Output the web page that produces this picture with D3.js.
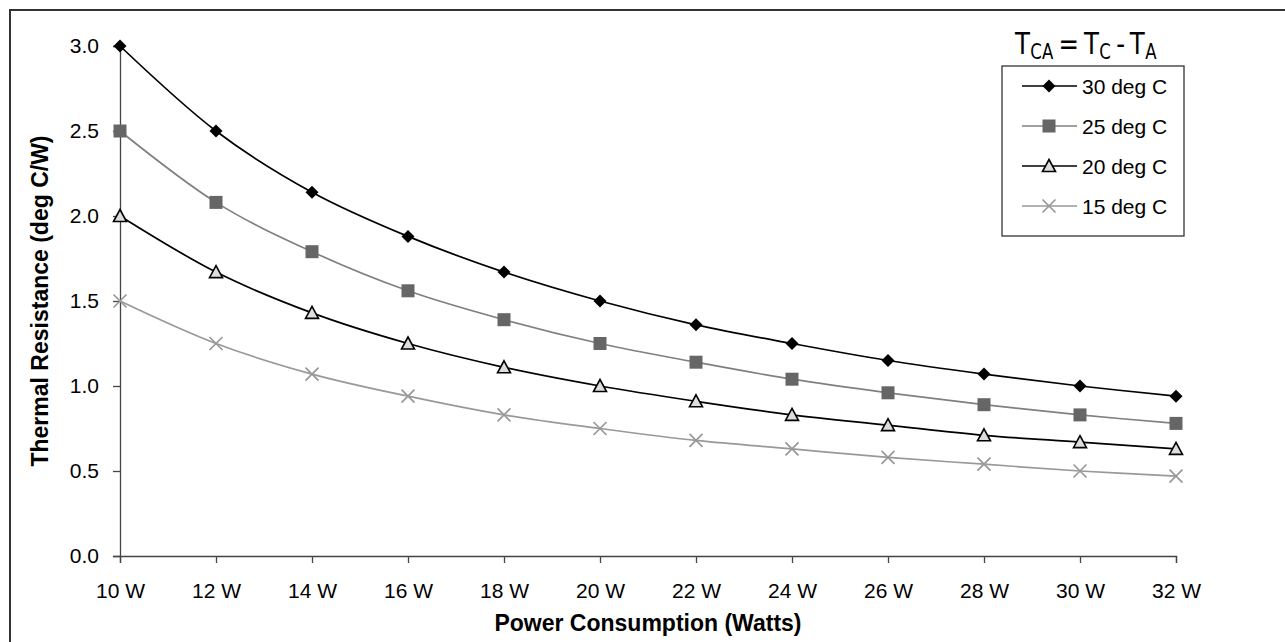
<!DOCTYPE html>
<html>
<head>
<meta charset="utf-8">
<script src="https://cdn.jsdelivr.net/npm/d3@7"></script>
<style>
  body { margin: 0; background: #fff; }
  text { font-family: Arial, "Liberation Sans", sans-serif; }
</style>
</head>
<body>
<script>
const width = 1285, height = 642;

// data
const watts = [10, 12, 14, 16, 18, 20, 22, 24, 26, 28, 30, 32];
const yTicks = [0, 0.5, 1.0, 1.5, 2.0, 2.5, 3.0];
const seriesNames = ["30 deg C", "25 deg C", "20 deg C", "15 deg C"];
const r30 = [3.0, 2.5, 2.14, 1.88, 1.67, 1.5, 1.36, 1.25, 1.15, 1.07, 1.0, 0.94];
const r25 = [2.5, 2.08, 1.79, 1.56, 1.39, 1.25, 1.14, 1.04, 0.96, 0.89, 0.83, 0.78];
const r20 = [2.0, 1.67, 1.43, 1.25, 1.11, 1.0, 0.91, 0.83, 0.77, 0.71, 0.67, 0.63];
const r15 = [1.5, 1.25, 1.07, 0.94, 0.83, 0.75, 0.68, 0.63, 0.58, 0.54, 0.5, 0.47];

const series = [
  { name: seriesNames[0], values: r30, line: "#000", marker: "diamond", fill: "#000", stroke: "#000" },
  { name: seriesNames[1], values: r25, line: "#808080", marker: "square", fill: "#666", stroke: "#666" },
  { name: seriesNames[2], values: r20, line: "#000", marker: "triangle", fill: "#ddd", stroke: "#000" },
  { name: seriesNames[3], values: r15, line: "#999", marker: "cross", fill: "none", stroke: "#999" }
];

const svg = d3.select("body").append("svg")
  .attr("width", width)
  .attr("height", height);

// outer frame (right and bottom edges run off the page)
svg.append("rect")
  .attr("x", 10).attr("y", 10)
  .attr("width", 1290).attr("height", 650)
  .attr("fill", "none")
  .attr("stroke", "#333")
  .attr("stroke-width", 2);

const x = d3.scaleLinear().domain([10, 32]).range([120, 1176]);
const y = d3.scaleLinear().domain([0, 3]).range([556, 46]);

// axes
const xAxis = svg.append("g")
  .attr("transform", `translate(0,${y(0)})`)
  .call(d3.axisBottom(x).tickValues(watts).tickSize(7).tickPadding(20)
    .tickFormat(d => d + " W"));
const yAxis = svg.append("g")
  .attr("transform", `translate(${x(10)},0)`)
  .call(d3.axisLeft(y).tickValues(yTicks).tickSize(7).tickPadding(14)
    .tickFormat(d3.format(".1f")));

[xAxis, yAxis].forEach(a => {
  a.attr("font-size", 21).attr("font-family", "Arial, 'Liberation Sans', sans-serif");
  a.select(".domain").attr("stroke", "#444").attr("stroke-width", 1.3);
  a.selectAll(".tick line").attr("stroke", "#444").attr("stroke-width", 1.3);
  a.selectAll(".tick text").attr("fill", "#000");
});

svg.append("text")
  .attr("x", (x(10) + x(32)) / 2).attr("y", 631)
  .attr("text-anchor", "middle")
  .attr("font-size", 23).attr("font-weight", "bold")
  .text("Power Consumption (Watts)");

svg.append("text")
  .attr("transform", `translate(48,${(y(0) + y(3)) / 2}) rotate(-90)`)
  .attr("text-anchor", "middle")
  .attr("font-size", 23).attr("font-weight", "bold")
  .text("Thermal Resistance (deg C/W)");

const line = d3.line()
  .x((d, i) => x(watts[i]))
  .y(d => y(d))
  .curve(d3.curveCatmullRom.alpha(0));

function drawMarker(g, s, cx, cy) {
  if (s.marker === "diamond") {
    g.append("path")
      .attr("d", `M${cx},${cy - 6.5}L${cx + 6.5},${cy}L${cx},${cy + 6.5}L${cx - 6.5},${cy}Z`)
      .attr("fill", s.fill);
  } else if (s.marker === "square") {
    g.append("rect")
      .attr("x", cx - 6.5).attr("y", cy - 6.5)
      .attr("width", 13).attr("height", 13)
      .attr("fill", s.fill);
  } else if (s.marker === "triangle") {
    g.append("path")
      .attr("d", `M${cx},${cy - 6.5}L${cx + 6.5},${cy + 5.5}L${cx - 6.5},${cy + 5.5}Z`)
      .attr("fill", s.fill).attr("stroke", s.stroke).attr("stroke-width", 1.6);
  } else {
    g.append("path")
      .attr("d", `M${cx - 6.5},${cy - 6.5}L${cx + 6.5},${cy + 6.5}M${cx - 6.5},${cy + 6.5}L${cx + 6.5},${cy - 6.5}`)
      .attr("stroke", s.stroke).attr("stroke-width", 1.7);
  }
}

// draw back to front so 30 deg is on top
series.slice().reverse().forEach(s => {
  const g = svg.append("g");
  g.append("path")
    .datum(s.values)
    .attr("d", line)
    .attr("fill", "none")
    .attr("stroke", s.line)
    .attr("stroke-width", 1.7);
  s.values.forEach((v, i) => drawMarker(g, s, x(watts[i]), y(v)));
});

// legend
const legend = svg.append("g");
legend.append("rect")
  .attr("x", 1002).attr("y", 66)
  .attr("width", 182).attr("height", 170)
  .attr("fill", "#fff")
  .attr("stroke", "#333").attr("stroke-width", 1.3);

series.forEach((s, i) => {
  const ly = 86 + i * 40;
  const g = legend.append("g");
  g.append("line")
    .attr("x1", 1022).attr("x2", 1077)
    .attr("y1", ly).attr("y2", ly)
    .attr("stroke", s.line).attr("stroke-width", 1.7);
  drawMarker(g, s, 1049, ly);
  g.append("text")
    .attr("x", 1082).attr("y", ly + 7.5)
    .attr("font-size", 21)
    .text(s.name);
});

// formula above legend: T_CA = T_C - T_A, pieces laid out side by side
const formulaParts = [
  { t: "T", sub: false }, { t: "CA", sub: true },
  { t: "\u2009=\u2009T", sub: false }, { t: "C", sub: true },
  { t: "\u2009-\u2009T", sub: false }, { t: "A", sub: true }
];
const fg = svg.append("g");
let fx = 0;
formulaParts.forEach(p => {
  const t = fg.append("text")
    .attr("x", fx).attr("y", p.sub ? 5 : 0)
    .attr("font-size", p.sub ? 21 : 31)
    .style("font-family", "'Liberation Sans Narrow', 'DejaVu Sans Condensed', Arial, sans-serif")
    .text(p.t);
  fx += t.node().getComputedTextLength() + 0.5;
});
fg.attr("transform", `translate(1015,54) scale(${142 / fx},1)`);
</script>
</body>
</html>
